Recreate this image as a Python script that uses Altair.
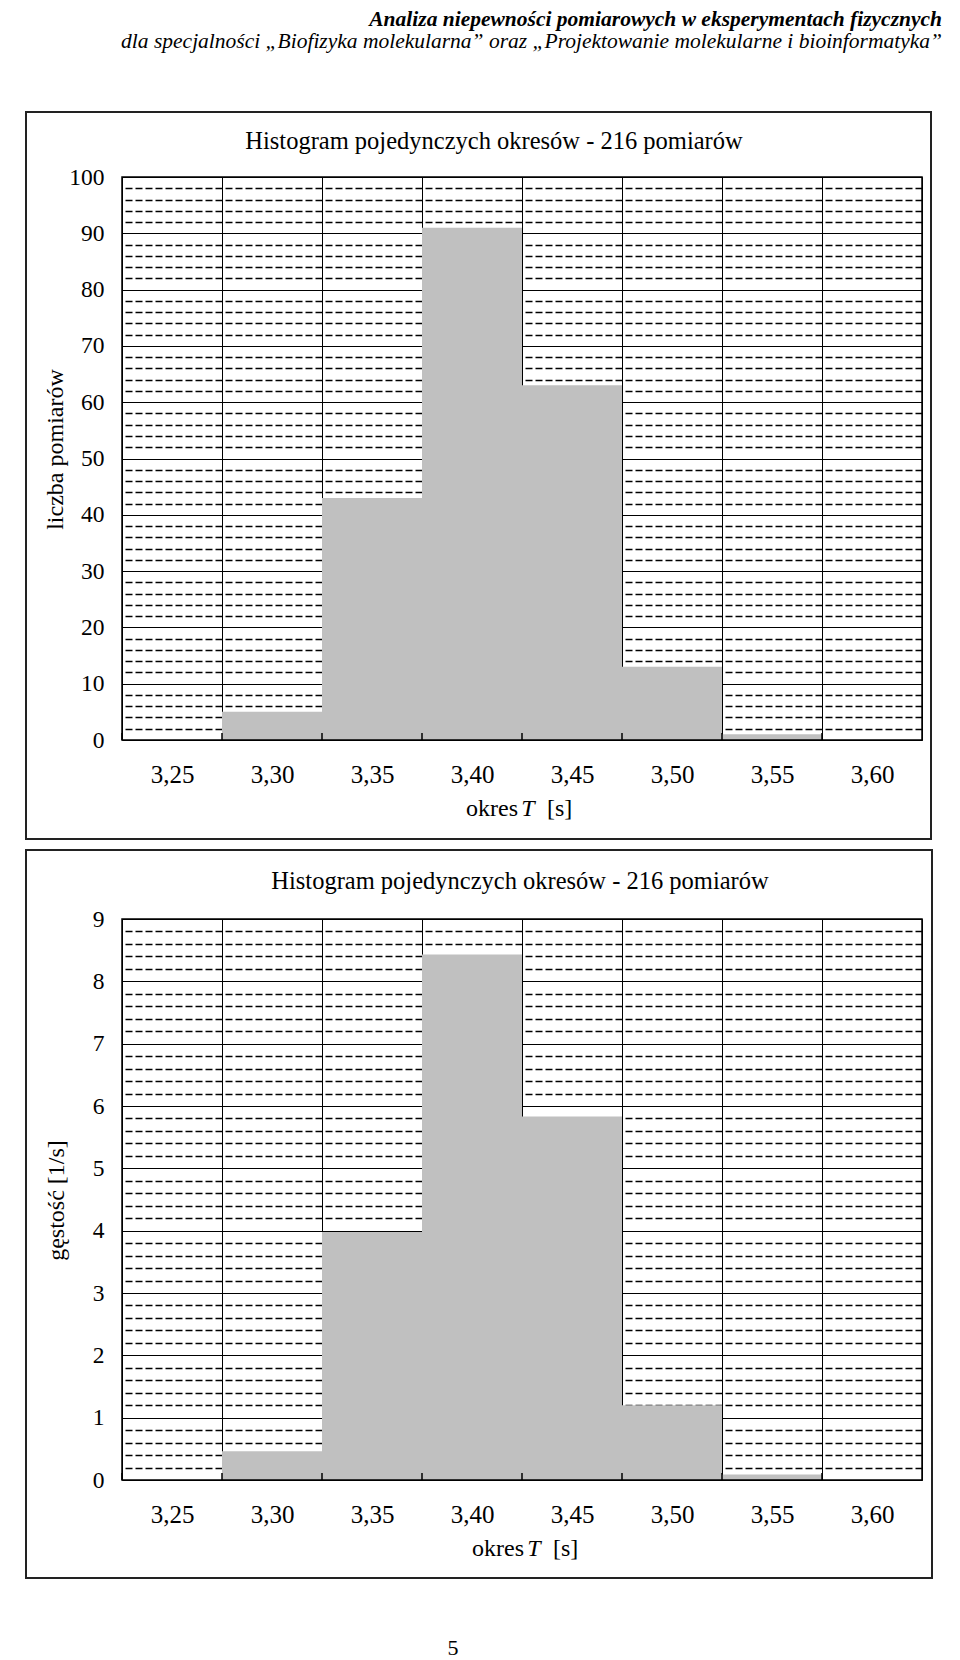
import altair as alt
import pandas as pd

# ---------------- data ----------------
CATEGORIES = ["3,25", "3,30", "3,35", "3,40", "3,45", "3,50", "3,55", "3,60"]
COUNTS = [0, 5, 43, 91, 63, 13, 1, 0]
DENSITY = [0.0, 0.46, 3.98, 8.43, 5.83, 1.20, 0.09, 0.0]

COUNT_MAJOR = [0, 10, 20, 30, 40, 50, 60, 70, 80, 90, 100]
DENS_MAJOR = [0, 1, 2, 3, 4, 5, 6, 7, 8, 9]
COUNT_MINOR = [v for v in range(2, 100, 2) if v % 10 != 0]
DENS_MINOR = [round(i * 0.2, 1) for i in range(1, 45) if i % 5 != 0]

HEADER_1 = "Analiza niepewności pomiarowych w eksperymentach fizycznych"
HEADER_2 = "dla specjalności „Biofizyka molekularna” oraz „Projektowanie molekularne i bioinformatyka”"
PANEL_TITLE = "Histogram pojedynczych okresów - 216 pomiarów"
X_TITLE_PARTS = ["okres", "T", "[s]"]
Y_TITLE_1 = "liczba pomiarów"
Y_TITLE_2 = "gęstość [1/s]"
PAGE_NO = "5"

FONT = "Liberation Serif"
W = 800


def text_layer(txt, x, y, size, align="center", style="normal", weight="normal"):
    return alt.Chart(pd.DataFrame({"t": [txt]})).mark_text(
        font=FONT, fontSize=size, align=align, baseline="alphabetic",
        fontStyle=style, fontWeight=weight, color="black"
    ).encode(x=alt.value(x), y=alt.value(y), text="t:N")


def x_title_layers(t_center, y):
    return [
        text_layer(X_TITLE_PARTS[0], t_center - 10, y, 24, align="right"),
        text_layer(X_TITLE_PARTS[1], t_center, y, 24, align="center", style="italic"),
        text_layer(X_TITLE_PARTS[2], t_center + 19, y, 24, align="left"),
    ]


def panel(values, y_dom, major, minor, height, y_title, y_title_x, y_title_y,
          t_center, frame_top, frame_bottom, frame_right, title_x, title_y, extras):
    df = pd.DataFrame({"okres": CATEGORIES, "value": values})
    xscale = alt.Scale(domain=CATEGORIES, paddingInner=0, paddingOuter=0)
    yscale = alt.Scale(domain=y_dom, nice=False, zero=True)

    x_axis = alt.Axis(
        tickBand="extent", grid=True, gridColor="black", gridWidth=1,
        gridOpacity=1, domain=False, ticks=False, tickSize=0, labelAngle=0,
        labelFont=FONT, labelFontSize=25, labelColor="black", labelPadding=22,
        title=None)

    def xenc(**kw):
        return alt.X("okres:N", scale=xscale, sort=CATEGORIES, axis=x_axis, **kw)

    minor_layer = alt.Chart(df).mark_bar(opacity=0).encode(
        x=xenc(),
        y=alt.Y("value:Q", scale=yscale, axis=alt.Axis(
            orient="right", values=minor, grid=True, gridColor="black",
            gridDash=[7, 3], gridWidth=1.6, gridOpacity=1, domain=False,
            ticks=False, labels=False, title=None)),
    )

    bars = alt.Chart(df).mark_bar(color="#C0C0C0").encode(
        x=xenc(),
        y=alt.Y("value:Q", scale=yscale, axis=alt.Axis(
            orient="left", values=major, grid=True, gridColor="black",
            gridWidth=1, gridOpacity=1, domain=False, ticks=False, tickSize=0,
            labelFont=FONT, labelFontSize=23.5, labelColor="black",
            labelPadding=18, labelFlush=False, labelOverlap=False,
            title=y_title, titleFont=FONT, titleFontSize=24,
            titleFontWeight="normal", titleColor="black",
            titleBaseline="alphabetic", titleAlign="center", titleAngle=270,
            titleX=y_title_x, titleY=y_title_y)),
    )

    ticks = alt.Chart(df).mark_rule(color="black", strokeWidth=1.5).encode(
        x=xenc(bandPosition=0),
        y=alt.value(height - 7), y2=alt.value(height),
    )

    one = pd.DataFrame({"a": [0]})
    border = alt.Chart(one).mark_rect(filled=False, stroke="black", strokeWidth=1.5).encode(
        x=alt.value(0), x2=alt.value(W), y=alt.value(0), y2=alt.value(height))
    frame = alt.Chart(one).mark_rect(filled=False, stroke="#222222", strokeWidth=2).encode(
        x=alt.value(-96), x2=alt.value(frame_right), y=alt.value(frame_top),
        y2=alt.value(frame_bottom))

    title = text_layer(PANEL_TITLE, title_x, title_y, 24.5)
    xt = x_title_layers(t_center, height + 76)

    return alt.layer(minor_layer, bars, ticks, border, frame, title, *xt, *extras).resolve_axis(
        y="independent").properties(width=W, height=height)


p1 = panel(COUNTS, [0, 100], COUNT_MAJOR, COUNT_MINOR, 563, Y_TITLE_1, -60, 272,
           406, -65, 662, 809, 372, -28,
           [text_layer(HEADER_1, 820, -151, 21.5, align="right", style="italic", weight="bold"),
            text_layer(HEADER_2, 820, -129, 21.5, align="right", style="italic")])

p2 = panel(DENSITY, [0, 9], DENS_MAJOR, DENS_MINOR, 561, Y_TITLE_2, -59, 281,
           412, -69, 659, 810, 398, -30,
           [text_layer(PAGE_NO, 331, 736, 22)])

chart = alt.vconcat(p1, p2, spacing=7).properties(
    padding={"left": 16, "top": 0, "right": 0, "bottom": 0}
).configure_view(stroke=None).configure(background="white")

chart.save("out.html", embed_options={"renderer": "svg", "actions": False})
